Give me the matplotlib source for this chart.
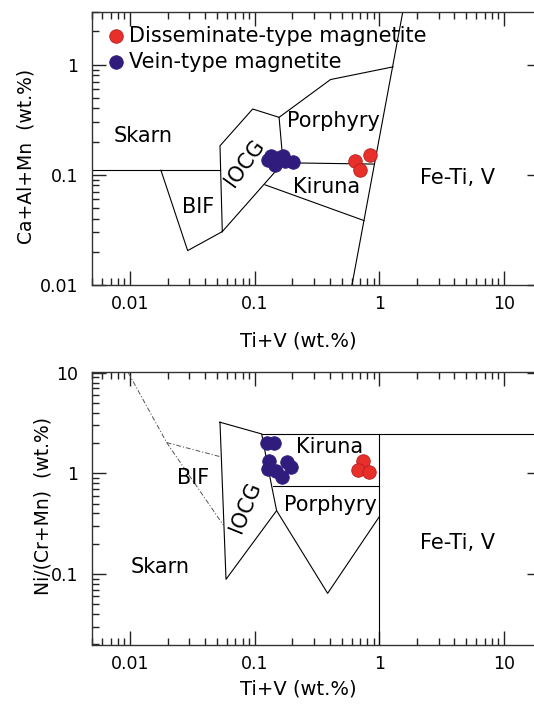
import matplotlib
matplotlib.use("Agg")
import matplotlib.pyplot as plt
from matplotlib.ticker import FixedLocator, NullFormatter

# ---- point data (wt.%) ----
top_blue_x = [0.128, 0.135, 0.146, 0.154, 0.169, 0.175, 0.203]
top_blue_y = [0.137, 0.149, 0.123, 0.143, 0.149, 0.134, 0.131]
top_red_x = [0.637, 0.699, 0.841]
top_red_y = [0.134, 0.111, 0.150]

bot_blue_x = [0.125, 0.143, 0.131, 0.1285, 0.148, 0.166, 0.181, 0.194]
bot_blue_y = [2.03, 2.03, 1.33, 1.11, 1.06, 0.92, 1.31, 1.16]
bot_red_x = [0.739, 0.677, 0.825]
bot_red_y = [1.33, 1.07, 1.04]

# ---- field boundaries, top diagram (Ti+V vs Ca+Al+Mn) ----
t_skarn_x = [0.005, 0.0527]
t_skarn_y = [0.11, 0.11]
t_bif_x = [0.0177, 0.029, 0.055]
t_bif_y = [0.11, 0.0205, 0.0305]
t_iocg_x = [0.055, 0.0527, 0.0964, 0.157, 0.169, 0.055]
t_iocg_y = [0.0305, 0.183, 0.395, 0.332, 0.1285, 0.0305]
t_por_x = [0.157, 0.406, 1.29]
t_por_y = [0.332, 0.731, 0.953]
t_kir_top_x = [0.169, 0.906]
t_kir_top_y = [0.1285, 0.125]
t_kir_bot_x = [0.121, 0.754]
t_kir_bot_y = [0.0811, 0.0384]
t_feti_x = [0.593, 1.556]
t_feti_y = [0.009, 3.16]

# ---- field boundaries, bottom diagram (Ti+V vs Ni/(Cr+Mn)) ----
b_bif_x = [0.0097, 0.0197, 0.056]
b_bif_y = [10.0, 2.025, 0.307]
b_bif2_x = [0.0197, 0.0527]
b_bif2_y = [2.025, 1.47]
b_iocg_x = [0.0527, 0.1138, 0.137, 0.150, 0.0589, 0.0527]
b_iocg_y = [3.23, 2.47, 0.746, 0.427, 0.0886, 3.23]
b_kir_x = [0.1138, 20.0]
b_kir_y = [2.47, 2.47]
b_por_top_x = [0.1394, 1.0]
b_por_top_y = [0.746, 0.746]
b_por_v_x = [0.150, 0.385, 1.0]
b_por_v_y = [0.427, 0.0643, 0.3715]
b_feti_x = [1.0, 1.0]
b_feti_y = [2.47, 0.0197]

x_ticks = [0.01, 0.1, 1, 10]
x_labels = ["0.01", "0.1", "1", "10"]
top_y_ticks = [0.01, 0.1, 1]
top_y_labels = ["0.01", "0.1", "1"]
bot_y_ticks = [0.1, 1, 10]
bot_y_labels = ["0.1", "1", "10"]

RED = "#e8302b"
BLUE = "#2f1c7c"

minor = [m * 10.0 ** e for e in range(-3, 2) for m in range(2, 10)]

fig = plt.figure(figsize=(5.34, 7.04), dpi=100)
ax1 = fig.add_axes([0.1732, 0.5952, 0.8408, 0.3878])
ax2 = fig.add_axes([0.1732, 0.0838, 0.8408, 0.3878])


def style_axes(ax, yticks, ylabels, ylim):
    ax.set_xscale("log")
    ax.set_yscale("log")
    ax.set_xlim(0.005, 20)
    ax.set_ylim(*ylim)
    ax.xaxis.set_major_locator(FixedLocator(x_ticks))
    ax.set_xticklabels(x_labels)
    ax.yaxis.set_major_locator(FixedLocator(yticks))
    ax.set_yticklabels(ylabels)
    for a in (ax.xaxis, ax.yaxis):
        a.set_minor_locator(FixedLocator(minor))
        a.set_minor_formatter(NullFormatter())
    ax.tick_params(which="both", direction="in", top=True, right=True,
                   width=1.0, color="#222222")
    ax.tick_params(which="major", length=10)
    ax.tick_params(which="minor", length=5)
    ax.tick_params(axis="x", labelsize=12.5, pad=7)
    ax.tick_params(axis="y", labelsize=12.5, pad=10)
    for s in ax.spines.values():
        s.set_linewidth(1.0)
        s.set_color("#333333")


def line(ax, x, y, **kw):
    kw.setdefault("color", "black")
    kw.setdefault("lw", 0.8)
    ax.plot(x, y, **kw)


# ---- top diagram ----
style_axes(ax1, top_y_ticks, top_y_labels, (0.01, 3.0))
for x, y in [(t_skarn_x, t_skarn_y), (t_bif_x, t_bif_y), (t_iocg_x, t_iocg_y),
             (t_por_x, t_por_y), (t_kir_top_x, t_kir_top_y),
             (t_kir_bot_x, t_kir_bot_y), (t_feti_x, t_feti_y)]:
    line(ax1, x, y)

ax1.scatter(top_red_x, top_red_y, s=95, color=RED, edgecolor="#b81c1c",
            linewidth=0.6, zorder=5, label="Disseminate-type magnetite")
ax1.scatter(top_blue_x, top_blue_y, s=95, color=BLUE, edgecolor=BLUE,
            linewidth=0.6, zorder=5, label="Vein-type magnetite")

fs = 15
ax1.text(0.0128, 0.223, "Skarn", fontsize=fs, ha="center", va="center")
ax1.text(0.0353, 0.0515, "BIF", fontsize=fs, ha="center", va="center")
ax1.text(0.0836, 0.128, "IOCG", fontsize=fs, ha="center", va="center",
         rotation=54)
ax1.text(0.427, 0.305, "Porphyry", fontsize=fs, ha="center", va="center")
ax1.text(0.378, 0.0782, "Kiruna", fontsize=fs, ha="center", va="center")
ax1.text(4.27, 0.094, "Fe-Ti, V", fontsize=fs, ha="center", va="center")

ax1.legend(loc="upper left", bbox_to_anchor=(0.03, 0.95), frameon=False,
           fontsize=fs, handletextpad=0.1, handlelength=1.0,
           labelspacing=0.3, borderpad=0.0, borderaxespad=0.0)

ax1.set_xlabel("Ti+V (wt.%)", fontsize=14)
ax1.xaxis.set_label_coords(0.458, -0.17)
ax1.set_ylabel("Ca+Al+Mn  (wt.%)", fontsize=13.5)
ax1.yaxis.set_label_coords(-0.127, 0.47)

# ---- bottom diagram ----
style_axes(ax2, bot_y_ticks, bot_y_labels, (0.0197, 10.2))
dash = (0, (5, 2, 1.2, 2))
line(ax2, b_bif_x, b_bif_y, color="#555555", lw=0.7, linestyle=dash)
line(ax2, b_bif2_x, b_bif2_y, color="#555555", lw=0.7, linestyle=dash)
for x, y in [(b_iocg_x, b_iocg_y), (b_kir_x, b_kir_y),
             (b_por_top_x, b_por_top_y), (b_por_v_x, b_por_v_y),
             (b_feti_x, b_feti_y)]:
    line(ax2, x, y)

ax2.scatter(bot_red_x, bot_red_y, s=95, color=RED, edgecolor="#b81c1c",
            linewidth=0.6, zorder=5)
ax2.scatter(bot_blue_x, bot_blue_y, s=95, color=BLUE, edgecolor=BLUE,
            linewidth=0.6, zorder=5)

ax2.text(0.402, 1.85, "Kiruna", fontsize=fs, ha="center", va="center")
ax2.text(0.0322, 0.896, "BIF", fontsize=fs, ha="center", va="center")
ax2.text(0.0836, 0.467, "IOCG", fontsize=fs, ha="center", va="center",
         rotation=68)
ax2.text(0.402, 0.486, "Porphyry", fontsize=fs, ha="center", va="center")
ax2.text(0.0174, 0.118, "Skarn", fontsize=fs, ha="center", va="center")
ax2.text(4.27, 0.2035, "Fe-Ti, V", fontsize=fs, ha="center", va="center")

ax2.set_xlabel("Ti+V (wt.%)", fontsize=14)
ax2.xaxis.set_label_coords(0.458, -0.128)
ax2.set_ylabel("Ni/(Cr+Mn)  (wt.%)", fontsize=13.5)
ax2.yaxis.set_label_coords(-0.088, 0.51)

fig.savefig("out.png", dpi=100, facecolor="white")
